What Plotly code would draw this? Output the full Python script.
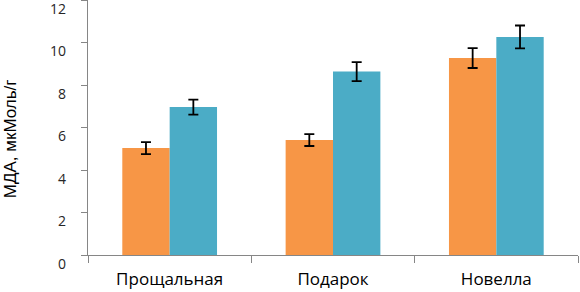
import plotly.graph_objects as go

categories = ["Прощальная", "Подарок", "Новелла"]
series_a = [5.03, 5.41, 9.27]
series_a_err = [0.28, 0.28, 0.47]
series_b = [6.96, 8.63, 10.26]
series_b_err = [0.35, 0.45, 0.54]
y_ticks = [0, 2, 4, 6, 8, 10, 12]

fig = go.Figure()
fig.add_trace(go.Bar(x=categories, y=series_a, marker=dict(color="#F79646", line=dict(width=0)),
                     error_y=dict(type="data", array=series_a_err, color="black", thickness=1.8, width=5)))
fig.add_trace(go.Bar(x=categories, y=series_b, marker=dict(color="#4BACC6", line=dict(width=0)),
                     error_y=dict(type="data", array=series_b_err, color="black", thickness=1.8, width=5)))

annotations = []
for v in y_ticks:
    annotations.append(dict(x=0, xref="paper", y=v, yref="y", text=str(v), showarrow=False,
                            xanchor="right", yanchor="middle", xshift=-20, yshift=-8,
                            font=dict(family="Open Sans", size=14, color="#262626")))
annotations.append(dict(x=0, xref="paper", y=5.45, yref="y", text="МДА, мкМоль/г", showarrow=False,
                        textangle=-90, xanchor="center", yanchor="middle", xshift=-78,
                        font=dict(family="Liberation Sans", size=17, color="black")))

fig.update_layout(
    width=580, height=292,
    margin=dict(l=88, r=2, t=0, b=37, autoexpand=False),
    paper_bgcolor="white", plot_bgcolor="white",
    showlegend=False,
    barmode="group", bargap=0.42, bargroupgap=0,
    annotations=annotations,
    xaxis=dict(showline=True, linecolor="#868686", linewidth=1, ticks="outside",
               tickcolor="#868686", ticklen=7, tickson="boundaries", automargin=False,
               tickfont=dict(family="Open Sans", size=17, color="black"), ticklabelstandoff=9),
    yaxis=dict(range=[0, 12], showline=True, linecolor="#868686", linewidth=1, ticks="outside",
               tickcolor="#868686", ticklen=6, tickvals=y_ticks, showticklabels=False,
               showgrid=False, zeroline=False, automargin=False),
)
fig.write_html("out.html", config={"displayModeBar": False},
               post_script="document.body.style.margin='0';")
